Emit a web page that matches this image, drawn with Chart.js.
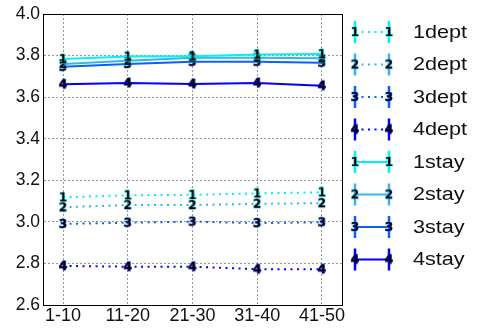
<!DOCTYPE html>
<html>
<head>
<meta charset="utf-8">
<script src="https://cdn.jsdelivr.net/npm/chart.js@4"></script>
<style>
  body { margin: 0; background: #fff; }
  canvas { display: block; }
</style>
</head>
<body>
<canvas id="chart" width="478" height="329"></canvas>
<script>
const categories = ['1-10', '11-20', '21-30', '31-40', '41-50'];
const yTicks = [2.6, 2.8, 3.0, 3.2, 3.4, 3.6, 3.8, 4.0];

const dept1 = [3.118, 3.128, 3.130, 3.137, 3.142];
const dept2 = [3.070, 3.081, 3.081, 3.087, 3.090];
const dept3 = [2.990, 2.996, 3.001, 2.994, 2.998];
const dept4 = [2.788, 2.784, 2.784, 2.772, 2.772];
const stay1 = [3.783, 3.795, 3.797, 3.805, 3.807];
const stay2 = [3.760, 3.775, 3.790, 3.790, 3.787];
const stay3 = [3.746, 3.760, 3.770, 3.770, 3.766];
const stay4 = [3.662, 3.668, 3.663, 3.668, 3.655];

const seriesNames = ['1dept', '2dept', '3dept', '4dept', '1stay', '2stay', '3stay', '4stay'];
const seriesData = [dept1, dept2, dept3, dept4, stay1, stay2, stay3, stay4];

const colors = ['#00f2f2', '#33b5f0', '#0a60ff', '#0000ff'];
const DOTS = [2, 4.5];

// digit markers like matlab text markers
function digitMarker(d, color) {
  const c = document.createElement('canvas');
  c.width = 12; c.height = 14;
  const g = c.getContext('2d');
  g.font = 'bold 12px "DejaVu Sans"';
  g.textAlign = 'center';
  g.textBaseline = 'middle';
  g.lineWidth = 0.8;
  g.strokeStyle = color;
  g.strokeText(d, 6, 7.5);
  g.fillStyle = '#000';
  g.fillText(d, 6, 7.5);
  return c;
}

const datasets = seriesData.map((vals, i) => {
  const k = i % 4;
  const dotted = i < 4;
  return {
    label: seriesNames[i],
    data: vals.map((v, j) => ({ x: j + 1, y: v })),
    borderColor: colors[k],
    backgroundColor: colors[k],
    borderWidth: 2,
    borderDash: dotted ? DOTS : [],
    pointStyle: digitMarker(String(k + 1), colors[k]),
    pointRadius: 5,
    tension: 0
  };
});

const legendPlugin = {
  id: 'sideLegend',
  afterDraw(chart) {
    const ctx = chart.ctx;
    const a = chart.chartArea;
    ctx.save();
    // box round the axes
    ctx.strokeStyle = '#000';
    ctx.lineWidth = 1;
    ctx.strokeRect(a.left + 0.5, a.top + 0.5, a.right - a.left, a.bottom - a.top);

    datasets.forEach((ds, i) => {
      const y = 32 + i * 32.5;
      const x0 = 355, x1 = 389;
      ctx.strokeStyle = ds.borderColor;
      ctx.lineWidth = 2;
      ctx.setLineDash(ds.borderDash);
      ctx.beginPath();
      ctx.moveTo(x0, y);
      ctx.lineTo(x1, y);
      ctx.stroke();
      ctx.setLineDash([]);
      ctx.lineWidth = 2.5;
      ctx.beginPath();
      ctx.moveTo(x0, y - 11); ctx.lineTo(x0, y + 11);
      ctx.moveTo(x1, y - 11); ctx.lineTo(x1, y + 11);
      ctx.stroke();
      ctx.drawImage(ds.pointStyle, x0 - 6, y - 7);
      ctx.drawImage(ds.pointStyle, x1 - 6, y - 7);

      ctx.save();
      ctx.translate(413, y + 1);
      ctx.scale(1.2, 1);
      ctx.fillStyle = '#111';
      ctx.font = '18px "Liberation Sans"';
      ctx.textBaseline = 'middle';
      ctx.fillText(ds.label, 0, 0);
      ctx.restore();
    });
    ctx.restore();
  }
};

new Chart(document.getElementById('chart'), {
  type: 'line',
  data: { datasets: datasets },
  options: {
    responsive: false,
    devicePixelRatio: 1,
    animation: false,
    layout: { padding: { top: 14, right: 136, left: 0, bottom: 0 } },
    plugins: { legend: { display: false }, tooltip: { enabled: false } },
    scales: {
      x: {
        type: 'linear',
        min: 0.69,
        max: 5.31,
        afterBuildTicks(scale) {
          scale.ticks = categories.map((c, i) => ({ value: i + 1 }));
        },
        afterFit(scale) { scale.height = 24; },
        ticks: {
          color: '#111',
          padding: 0,
          font: { family: 'Liberation Sans', size: 18 },
          callback: (v) => categories[v - 1]
        },
        grid: { color: '#999', lineWidth: 1, drawTicks: false },
        border: { display: true, color: '#000', dash: [2, 2] }
      },
      y: {
        min: 2.6,
        max: 4.0,
        afterBuildTicks(scale) {
          scale.ticks = yTicks.map(v => ({ value: v }));
        },
        afterFit(scale) { scale.width = 43; },
        ticks: {
          color: '#111',
          padding: 3,
          font: { family: 'Liberation Sans', size: 17.5 },
          callback: (v) => v.toFixed(1)
        },
        grid: { color: '#999', lineWidth: 1, drawTicks: false },
        border: { display: true, color: '#000', dash: [2, 2] }
      }
    }
  },
  plugins: [legendPlugin]
});
</script>
</body>
</html>
